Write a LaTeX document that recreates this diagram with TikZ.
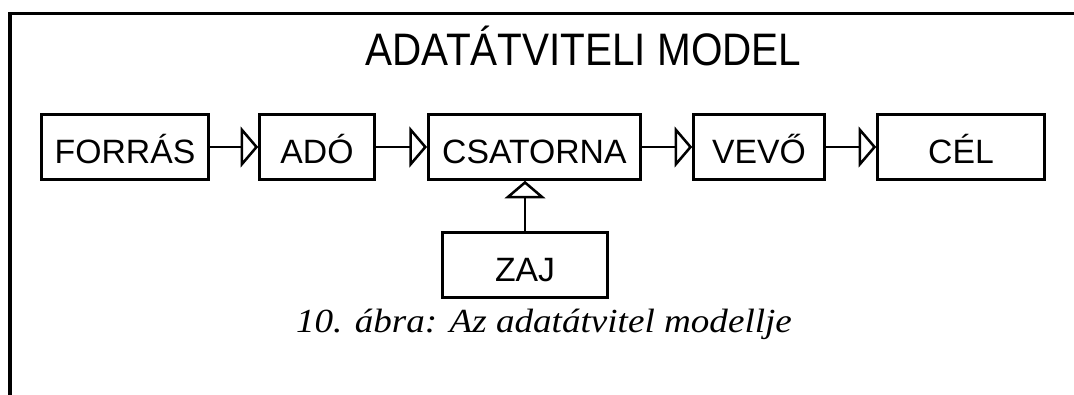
\documentclass[tikz,border=0pt]{standalone}
\usepackage{fontspec}
\setmainfont{Liberation Sans}
\newfontfamily\capserif{Liberation Serif}
\usetikzlibrary{arrows.meta}

\begin{document}
\begin{tikzpicture}[
        blk/.style={draw, line width=2pt, minimum height=1.62cm, inner sep=0pt, font=\fontsize{24}{28}\selectfont, text height=22.8pt, text depth=0pt},
        arr/.style={-{Triangle[open, length=4.4mm, width=10.2mm]}, line width=1.8pt}]
      \useasboundingbox (0,0) rectangle (26.85,-9.875);
      % open frame: top and left side only
      \draw[line width=2.2pt] (26.85,-0.33) -- (0.25,-0.33) -- (0.25,-9.875);
      \node[font=\fontsize{30}{34}\selectfont, anchor=base] (title) at (14.59,-1.65) {\scalebox{0.96}[1.08]{ADATÁTVITELI MODEL}};
      \node[blk, minimum width=4.17cm] (forras) at (3.125,-3.675) {FORRÁS};
      \node[blk, minimum width=2.87cm] (ado) at (7.925,-3.675) {ADÓ};
      \node[blk, minimum width=5.3cm] (csatorna) at (13.36,-3.675) {CSATORNA};
      \node[blk, minimum width=3.27cm] (vevo) at (18.975,-3.675) {VEVŐ};
      \node[blk, minimum width=4.17cm] (cel) at (24.025,-3.675) {CÉL};
      \node[blk, minimum width=4.12cm] (zaj) at (13.125,-6.625) {ZAJ};
      \node[font=\capserif\itshape\fontsize{24}{28}\selectfont, anchor=base] (abra) at (13.6,-8.3) {\scalebox{1.1}[1]{10. ábra: Az adatátvitel modellje}};
      \draw[arr] (forras) -- (ado); \draw[arr] (ado) -- (csatorna);
      \draw[arr] (csatorna) -- (vevo); \draw[arr] (vevo) -- (cel);
      \draw[arr] (zaj.north) -- (zaj.north |- csatorna.south);
      \end{tikzpicture}
\end{document}
